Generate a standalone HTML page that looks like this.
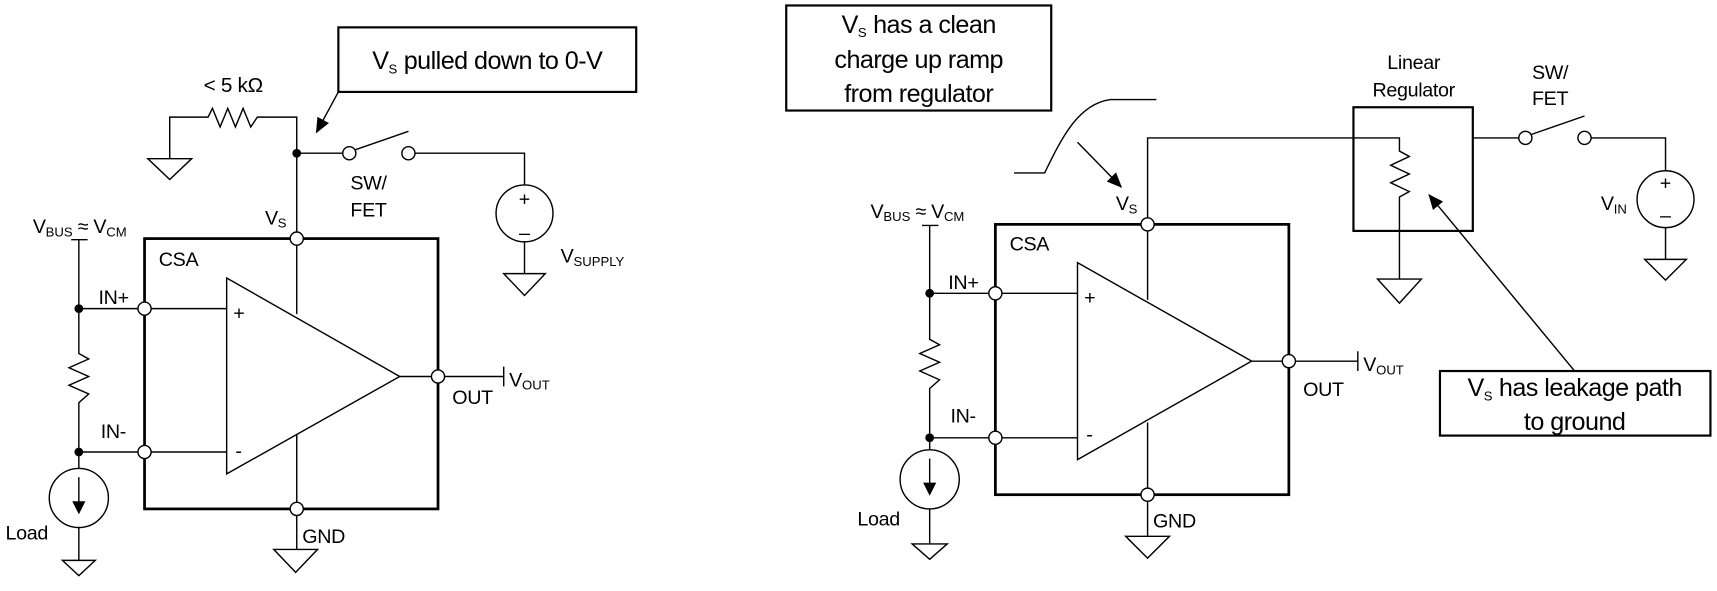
<!DOCTYPE html>
<html><head><meta charset="utf-8"><style>
html,body{margin:0;padding:0;background:#fff;}
svg{display:block;}
text{font-family:"Liberation Sans Narrow","Liberation Sans",sans-serif;fill:#000;}
.c{font-size:23px;letter-spacing:-0.5px;}
.l{font-size:18px;letter-spacing:-0.3px;}
.s{font-size:12px;letter-spacing:0;}
.pm{font-size:18px;}
</style></head><body>
<svg width="1717" height="591" viewBox="0 0 1568 540" preserveAspectRatio="none" xmlns="http://www.w3.org/2000/svg">
<defs>
<marker id="ah2" markerWidth="14" markerHeight="14" refX="13" refY="7" orient="auto" markerUnits="userSpaceOnUse"><path d="M0,1 L14,7 L0,13 z" fill="#000"/></marker>
</defs>
<g fill="none" stroke="#000" stroke-width="1.3">
<rect x="309" y="25" width="272" height="59" stroke-width="2"/>
<line x1="309" y1="84" x2="289" y2="121" marker-end="url(#ah2)"/>
<polyline points="155,145 155,107 190,107 194,99 201,116 208,99 215,116 222,99 229,116 235,107 271,107 271,218"/>
<polygon points="135,145 175,145 155,164"/>
<line x1="271" y1="140" x2="313" y2="140"/>
<circle cx="319" cy="140" r="6" fill="#fff"/>
<line x1="324" y1="137" x2="373" y2="120"/>
<circle cx="373" cy="140" r="6" fill="#fff"/>
<polyline points="379,140 479,140 479,169"/>
<circle cx="479" cy="195" r="26"/>
<polyline points="479,221 479,250"/>
<polygon points="460,250 498,250 479,270"/>
<rect x="132" y="218" width="268" height="247" stroke-width="2.5"/>
<line x1="271" y1="218" x2="271" y2="287"/>
<line x1="271" y1="397" x2="271" y2="465"/>
<polygon points="207,254 365,344 207,433" fill="#fff"/>
<line x1="72" y1="282" x2="207" y2="282"/>
<line x1="72" y1="413" x2="207" y2="413"/>
<line x1="65" y1="219" x2="80" y2="219"/>
<polyline points="72,219 72,323 81,328 63,336 81,344 63,352 81,360 72,368 72,428"/>
<circle cx="72" cy="455" r="27"/>
<line x1="72" y1="436" x2="72" y2="462"/>
<polyline points="72,482 72,512"/>
<polygon points="57,512 87,512 72,526"/>
<line x1="365" y1="344" x2="460" y2="344"/>
<line x1="460" y1="335" x2="460" y2="353"/>
<line x1="271" y1="465" x2="271" y2="502"/>
<polygon points="250,502 290,502 270,523"/>
<circle cx="132" cy="282" r="6" fill="#fff"/>
<circle cx="132" cy="413" r="6" fill="#fff"/>
<circle cx="271" cy="218" r="6" fill="#fff"/>
<circle cx="271" cy="465" r="6" fill="#fff"/>
<circle cx="400" cy="344" r="6" fill="#fff"/>
<rect x="718" y="5" width="242" height="96" stroke-width="2"/>
<path d="M926,158 L954,158 C970,125 985,95 1014,91 L1056,91"/>
<line x1="984" y1="130" x2="1024" y2="171" marker-end="url(#ah2)"/>
<polyline points="1048,205 1048,126 1278,126 1278,138 1287,143 1270,151 1287,159 1270,167 1287,175 1278,180 1278,255"/>
<polygon points="1258,255 1298,255 1278,277"/>
<rect x="1236" y="98" width="109" height="113" stroke-width="2"/>
<line x1="1345" y1="126" x2="1387" y2="126"/>
<circle cx="1393" cy="126" r="6" fill="#fff"/>
<line x1="1398" y1="123" x2="1447" y2="106"/>
<circle cx="1447" cy="126" r="6" fill="#fff"/>
<polyline points="1453,126 1521,126 1521,156"/>
<circle cx="1521" cy="182" r="26"/>
<polyline points="1521,208 1521,237"/>
<polygon points="1502,237 1540,237 1521,256"/>
<rect x="909" y="205" width="268" height="247" stroke-width="2.5"/>
<line x1="1048" y1="205" x2="1048" y2="274"/>
<line x1="1048" y1="386" x2="1048" y2="452"/>
<polygon points="984,240 1143,330 984,420" fill="#fff"/>
<line x1="849" y1="268" x2="984" y2="268"/>
<line x1="849" y1="400" x2="984" y2="400"/>
<line x1="842" y1="206" x2="857" y2="206"/>
<polyline points="849,206 849,310 858,315 840,323 858,331 840,339 858,347 849,355 849,411"/>
<circle cx="849" cy="438" r="27"/>
<line x1="849" y1="419" x2="849" y2="445"/>
<polyline points="849,465 849,497"/>
<polygon points="833,497 865,497 849,511"/>
<line x1="1143" y1="330" x2="1240" y2="330"/>
<line x1="1240" y1="321" x2="1240" y2="339"/>
<line x1="1048" y1="452" x2="1048" y2="490"/>
<polygon points="1028,490 1068,490 1048,510"/>
<circle cx="909" cy="268" r="6" fill="#fff"/>
<circle cx="909" cy="400" r="6" fill="#fff"/>
<circle cx="1048" cy="205" r="6" fill="#fff"/>
<circle cx="1048" cy="452" r="6" fill="#fff"/>
<circle cx="1177" cy="330" r="6" fill="#fff"/>
<rect x="1315" y="339" width="247" height="59" stroke-width="2"/>
<line x1="1438" y1="339" x2="1305" y2="178" marker-end="url(#ah2)"/>
</g>
<g fill="#000">
<circle cx="271" cy="140" r="4"/><circle cx="72" cy="282" r="4"/><circle cx="72" cy="413" r="4"/>
<circle cx="849" cy="268" r="4"/><circle cx="849" cy="400" r="4"/>
<path d="M66,458 L78,458 L72,470 z"/><path d="M843,441 L855,441 L849,453 z"/>
</g>
<text class="c" x="445" y="63" text-anchor="middle">V<tspan class="s" dy="4">S</tspan><tspan dy="-4"> pulled down to 0-V</tspan></text>
<text class="l" x="213" y="84" text-anchor="middle" style="font-size:19px">&lt; 5 kΩ</text>
<text class="l" x="320" y="173">SW/</text>
<text class="l" x="320" y="198">FET</text>
<text class="l" x="242" y="205">V<tspan class="s" dy="3">S</tspan></text>
<text class="l" x="512" y="240">V<tspan class="s" dy="3">SUPPLY</tspan></text>
<text class="l" x="30" y="213">V<tspan class="s" dy="3">BUS</tspan><tspan dy="-3"> ≈ V</tspan><tspan class="s" dy="3">CM</tspan></text>
<text class="l" x="145" y="243">CSA</text>
<text class="l" x="90" y="278">IN+</text>
<text class="l" x="92" y="400">IN-</text>
<text class="l" x="213" y="292">+</text>
<text class="l" x="215" y="418">-</text>
<text class="pm" x="479" y="188" text-anchor="middle">+</text>
<text class="pm" x="479" y="219" text-anchor="middle">–</text>
<text class="l" x="465" y="353">V<tspan class="s" dy="3">OUT</tspan></text>
<text class="l" x="413" y="369">OUT</text>
<text class="l" x="5" y="493">Load</text>
<text class="l" x="276" y="496">GND</text>
<text class="c" x="839" y="30" text-anchor="middle">V<tspan class="s" dy="4">S</tspan><tspan dy="-4"> has a clean</tspan></text>
<text class="c" x="839" y="62" text-anchor="middle">charge up ramp</text>
<text class="c" x="839" y="93" text-anchor="middle">from regulator</text>
<text class="l" x="1291" y="63" text-anchor="middle">Linear</text>
<text class="l" x="1291" y="88" text-anchor="middle">Regulator</text>
<text class="l" x="1399" y="72">SW/</text>
<text class="l" x="1399" y="96">FET</text>
<text class="l" x="1462" y="192">V<tspan class="s" dy="3">IN</tspan></text>
<text class="pm" x="1521" y="173" text-anchor="middle">+</text>
<text class="pm" x="1521" y="203" text-anchor="middle">–</text>
<text class="l" x="1019" y="192">V<tspan class="s" dy="3">S</tspan></text>
<text class="l" x="795" y="199">V<tspan class="s" dy="3">BUS</tspan><tspan dy="-3"> ≈ V</tspan><tspan class="s" dy="3">CM</tspan></text>
<text class="l" x="922" y="229">CSA</text>
<text class="l" x="866" y="264">IN+</text>
<text class="l" x="868" y="386">IN-</text>
<text class="l" x="990" y="278">+</text>
<text class="l" x="992" y="403">-</text>
<text class="l" x="1245" y="339">V<tspan class="s" dy="3">OUT</tspan></text>
<text class="l" x="1190" y="362">OUT</text>
<text class="l" x="783" y="480">Load</text>
<text class="l" x="1053" y="482">GND</text>
<text class="c" x="1438" y="362" text-anchor="middle">V<tspan class="s" dy="4">S</tspan><tspan dy="-4"> has leakage path</tspan></text>
<text class="c" x="1438" y="393" text-anchor="middle">to ground</text>
</svg>
</body></html>
